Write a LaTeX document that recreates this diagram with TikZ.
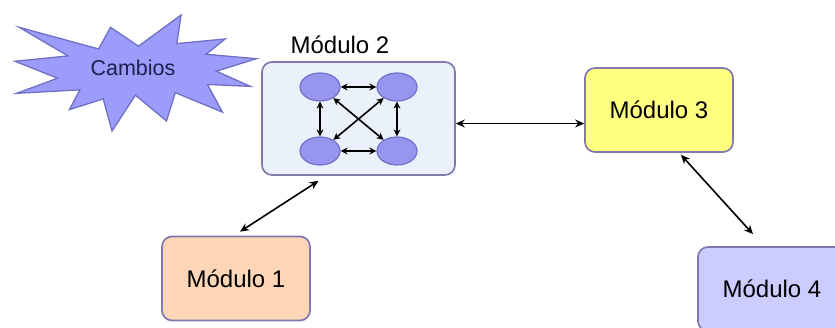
\documentclass[tikz,border=0pt]{standalone}
\usepackage{fontspec}
\setmainfont{Liberation Sans}
\usetikzlibrary{arrows.meta,shapes.geometric}
\definecolor{edgegray}{RGB}{128,120,175}
\definecolor{burst}{RGB}{156,156,250}
\definecolor{burstedge}{RGB}{112,112,200}
\definecolor{inner}{RGB}{150,150,240}
\definecolor{boxblue}{RGB}{234,241,251}
\definecolor{peach}{RGB}{252,214,182}
\definecolor{lemon}{RGB}{255,255,128}
\definecolor{lilac}{RGB}{204,204,255}
\definecolor{navy}{RGB}{30,30,80}
\tikzset{
  modbox/.style={draw=edgegray, line width=1.7pt, rounded corners=10pt,
    minimum width=148pt, minimum height=84pt, inner sep=0pt,
    font=\fontsize{24}{28}\selectfont},
  cell/.style={ellipse, draw=burstedge, fill=inner, line width=1.2pt,
    minimum width=40pt, minimum height=28pt, inner sep=0pt},
  link/.style={{Stealth[length=9pt,width=8pt]}-{Stealth[length=9pt,width=8pt]}, line width=1.6pt},
  minilink/.style={{Stealth[length=7pt,width=7pt]}-{Stealth[length=7pt,width=7pt]}, line width=1.6pt}
}
\begin{document}
\begin{tikzpicture}[x=1pt,y=-1pt]
    \useasboundingbox (0,0) rectangle (835,328);
    % The explosion with its label.
        \begin{scope}[shift={(15,15)}, xscale=1.1435, yscale=0.537]
        \draw[fill=burst, draw=burstedge, line width=1.3pt, line join=miter]
          (108,58) -- (145.22,0) -- (141.55,53.25) -- (183.8,44.57) -- (167.02,73.15)
          -- (210.97,81.37) -- (176.07,104.75) -- (205.83,132.9) -- (168.37,129.42)
          -- (181.45,180.95) -- (140.2,144.57) -- (132.47,197.37) -- (105.32,149.35)
          -- (84.85,216) -- (77.15,156.27) -- (47.62,176.17) -- (56.67,139.37)
          -- (1.35,145.87) -- (37.22,117.75) -- (0,86.15) -- (46.27,76.17)
          -- (3.7,22.95) -- (73.12,63.2) -- (83.52,22.95) -- cycle;
        \end{scope}
        \node[text=navy, font=\fontsize{21.5}{26}\selectfont] (cambios) at (133,68) {Cambios};
    % Below nodes are the modules.
        \node[modbox, fill=boxblue, minimum width=193pt, minimum height=113pt] (m2) at (358.5,118.5) {};
        \node[font=\fontsize{24}{28}\selectfont] (m2label) at (340,45) {Módulo 2};
        \node[modbox, fill=peach] (m1) at (236,278.5) {Módulo 1};
        \node[modbox, fill=lemon] (m3) at (659,110) {Módulo 3};
        \node[modbox, fill=lilac] (m4) at (772,289) {Módulo 4};
    % This draws the four cells inside module 2.
        \node[cell] (c1) at (320,87) {};
        \node[cell] (c2) at (397,87) {};
        \node[cell] (c3) at (320,151) {};
        \node[cell] (c4) at (397,151) {};
        \draw[minilink] (c1) -- (c2);
        \draw[minilink] (c3) -- (c4);
        \draw[minilink] (c1) -- (c3);
        \draw[minilink] (c2) -- (c4);
        \draw[minilink] (c1) -- (c4);
        \draw[minilink] (c2) -- (c3);
    % Links between the modules.
        \draw[link] ([yshift=-5pt]m2.east) -- ([yshift=-13.5pt]m3.west);
        \draw[link] ([xshift=4pt,yshift=4pt]m1.north) -- ([xshift=-40pt,yshift=-5pt]m2.south);
        \draw[link] ([xshift=22pt,yshift=-2pt]m3.south) -- ([xshift=-19pt,yshift=12pt]m4.north);
\end{tikzpicture}
\end{document}
